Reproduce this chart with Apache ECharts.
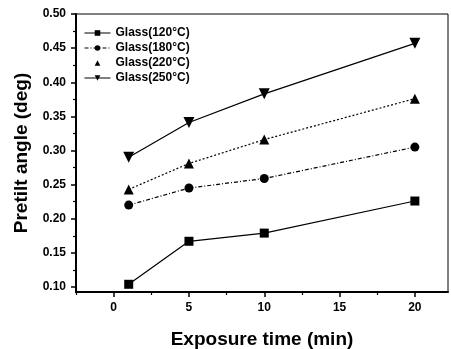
<!DOCTYPE html>
<html><head><meta charset="utf-8">
<script src="https://cdn.jsdelivr.net/npm/echarts@6/dist/echarts.min.js"></script>
<style>html,body{margin:0;padding:0;background:#fff}#c{width:451px;height:349px}</style>
</head><body><div id="c"></div>
<script>
const xValues = [1, 5, 10, 20];
const seriesNames = ['Glass(120\u00B0C)', 'Glass(180\u00B0C)', 'Glass(220\u00B0C)', 'Glass(250\u00B0C)'];
const s120 = [0.104, 0.167, 0.179, 0.226];
const s180 = [0.220, 0.245, 0.259, 0.305];
const s220 = [0.243, 0.281, 0.316, 0.376];
const s250 = [0.290, 0.341, 0.383, 0.457];
const xTickLabels = [0, 5, 10, 15, 20];
const xMinorTicks = [-2.5, 2.5, 7.5, 12.5, 17.5];
const yTickLabels = [0.10, 0.15, 0.20, 0.25, 0.30, 0.35, 0.40, 0.45, 0.50];
const yMinorTicks = [0.125, 0.175, 0.225, 0.275, 0.325, 0.375, 0.425, 0.475];

const font = 'Liberation Sans, Arial, sans-serif';
const chart = echarts.init(document.getElementById('c'));
const pair = a => xValues.map((x, i) => [x, a[i]]);
const mk = (name, data, symbol, size, type) => ({
  name, type: 'line', data: pair(data), symbol, symbolSize: size,
  itemStyle: {color: '#000'},
  lineStyle: {color: '#000', width: 1.2, type},
  animation: false
});
const xr = {min: -2.5, max: 22.2};
const yr = {min: 0.0927, max: 0.5};
chart.setOption({
  animation: false,
  grid: {left: 76, top: 14, right: 3, bottom: 57, show: true, borderColor: '#000', borderWidth: 1,
         outerBoundsMode: 'none', containLabel: false},
  legend: {
    left: 79, top: 22, orient: 'vertical', itemGap: 3, itemWidth: 26, itemHeight: 7,
    lineStyle: {width: 1},
    textStyle: {fontFamily: font, fontWeight: 'bold', fontSize: 12, color: '#000'},
    data: [
      {name: seriesNames[0]},
      {name: seriesNames[1]},
      {name: seriesNames[2], lineStyle: {opacity: 0}},
      {name: seriesNames[3]}
    ]
  },
  xAxis: [{
    type: 'value', ...xr,
    name: 'Exposure time (min)', nameLocation: 'middle', nameGap: 38,
    nameTextStyle: {fontFamily: font, fontWeight: 'bold', fontSize: 19, color: '#000'},
    axisLine: {onZero: false, lineStyle: {color: '#000', width: 2}},
    axisTick: {show: true, length: 5, customValues: xTickLabels, lineStyle: {color: '#000', width: 1.5}},
    axisLabel: {customValues: xTickLabels, fontFamily: font, fontWeight: 'bold', fontSize: 12, color: '#000', margin: 10},
    splitLine: {show: false}
  }, {
    type: 'value', ...xr, position: 'bottom', gridIndex: 0,
    axisLine: {show: false, onZero: false},
    axisTick: {show: true, length: 3, customValues: xMinorTicks, lineStyle: {color: '#000', width: 1.2}},
    axisLabel: {show: false}, splitLine: {show: false}
  }],
  yAxis: [{
    type: 'value', ...yr,
    name: 'Pretilt angle (deg)', nameLocation: 'middle', nameGap: 43,
    nameTextStyle: {fontFamily: font, fontWeight: 'bold', fontSize: 19, color: '#000'},
    axisLine: {show: true, onZero: false, lineStyle: {color: '#000', width: 2}},
    axisTick: {show: true, length: 5, customValues: yTickLabels, lineStyle: {color: '#000', width: 1.5}},
    axisLabel: {customValues: yTickLabels, formatter: v => v.toFixed(2), fontFamily: font, fontWeight: 'bold', fontSize: 12, color: '#000', margin: 10},
    splitLine: {show: false}
  }, {
    type: 'value', ...yr, position: 'left',
    axisLine: {show: false, onZero: false},
    axisTick: {show: true, length: 3, customValues: yMinorTicks, lineStyle: {color: '#000', width: 1.2}},
    axisLabel: {show: false}, splitLine: {show: false}
  }],
  series: [
    mk(seriesNames[0], s120, 'rect', 9, 'solid'),
    mk(seriesNames[1], s180, 'circle', 9, [4, 2, 1, 2]),
    mk(seriesNames[2], s220, 'triangle', 10, [2, 2]),
    mk(seriesNames[3], s250, 'path://M0,0 L10,0 L5,9 Z', 11, 'solid')
  ]
});
</script></body></html>
